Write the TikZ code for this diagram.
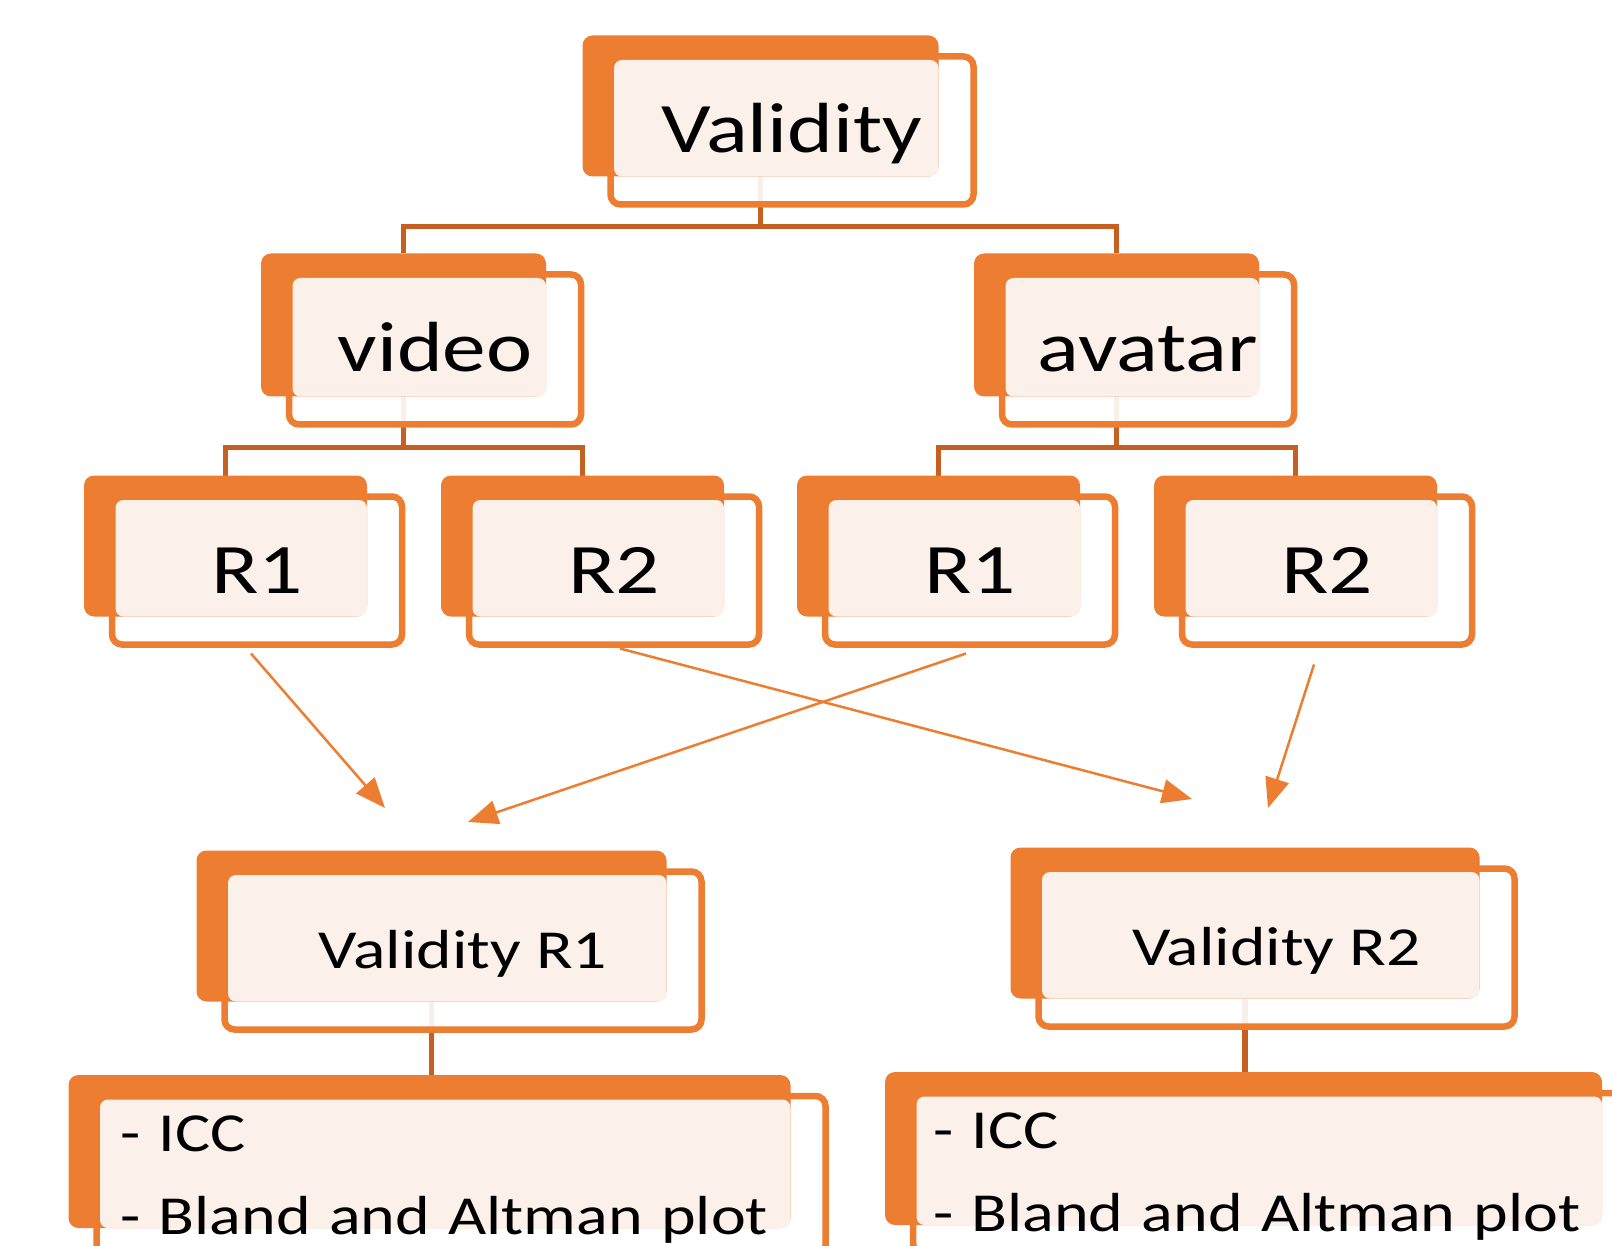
\documentclass[tikz,border=0pt]{standalone}
\usepackage{fontspec}
\newfontfamily\boxfont[FakeStretch=1.23]{Carlito}
\newfontfamily\listfont[FakeStretch=1.2]{Carlito}
\usetikzlibrary{arrows.meta}
\definecolor{accent}{RGB}{237,125,49}
\definecolor{linkcol}{RGB}{197,96,32}
\definecolor{peach}{RGB}{251,240,234}
\pgfdeclarelayer{background}
\pgfsetlayers{background,main}
\begin{document}
\begin{tikzpicture}[x=1pt,y=-1pt,
    card/.style={inner sep=0pt,outer sep=0pt,text height=45pt,text depth=0pt,font=\boxfont\fontsize{71}{85}\selectfont},
    smallcard/.style={card,text height=35pt,font=\boxfont\fontsize{55}{66}\selectfont},
    listcard/.style={inner sep=0pt,inner xsep=20pt,outer sep=0pt,align=left,text height=36pt,text depth=86pt,font=\listfont\fontsize{55}{83}\selectfont},
    link/.style={draw=linkcol,line width=5.5pt},
    arr/.style={draw=accent,line width=2.5pt,-{Triangle[length=30pt,width=24pt]}}]
    \useasboundingbox (0,0) rectangle (1612,1246);
    % labels
    \node[card,minimum width=363pt,minimum height=148pt] (top) at (792,130.5) {Validity};
    \node[card,minimum width=292pt,minimum height=150pt] (video) at (435,349.5) {video};
    \node[card,minimum width=292pt,minimum height=150pt] (avatar) at (1148,349.5) {avatar};
    \foreach \n/\x/\t in {r1v/257/R1,r2v/614/R2,r1a/970/R1,r2a/1327/R2}
        \node[card,minimum width=290pt,minimum height=148pt] (\n) at (\x,570.5) {\t};
    \node[smallcard,minimum width=477pt,minimum height=158pt] (vr1) at (463,950.5) {Validity R1};
    \node[smallcard,minimum width=476pt,minimum height=158pt] (vr2) at (1276.5,947.5) {Validity R2};
    \node[listcard,inner xsep=24pt,text width=681pt,minimum height=160pt] (list1) at (461,1176) {- ICC\\- Bland and Altman plot};
    \node[listcard,text width=684pt,minimum height=160pt] (list2) at (1275,1173) {- ICC\\- Bland and Altman plot};
    \begin{pgfonlayer}{background}
        \foreach \n in {top,video,avatar,r1v,r2v,r1a,r2a,vr1,vr2,list1,list2}{
            \coordinate (\n-t) at ([shift={(-31.5,-21)}]\n.north);
            \coordinate (\n-b) at ([shift={(-31.5,-28)}]\n.south);
        }
        % tree links
        \draw[link] (top-b) -- ++(0,50) -| (video-t);
        \draw[link] (top-b) -- ++(0,50) -| (avatar-t);
        \foreach \p/\c in {video/r1v,video/r2v,avatar/r1a,avatar/r2a}
            \draw[link] (\p-b) -- ++(0,51) -| (\c-t);
        \draw[link] (vr1-b) -- (vr1-b |- list1-t);
        \draw[link] (vr2-b) -- (vr2-b |- list2-t);
        % arrows
        \path (385,808) coordinate (t1) (1192,799) coordinate (t2)
              (468,822) coordinate (t3) (1268,808) coordinate (t4);
        \draw[arr] ([shift={(-6,9)}]r1v.south) -- (t1);
        \draw[arr] ([shift={(6,4)}]r2v.south) -- (t2);
        \draw[arr] ([shift={(-4,9)}]r1a.south) -- (t3);
        \draw[arr] ([shift={(-13,20)}]r2a.south) -- (t4);
        % cards
        \foreach \n in {top,video,avatar,r1v,r2v,r1a,r2a,vr1,vr2,list1,list2}{
            \draw[accent,line width=6.5pt,fill=white,fill opacity=.9,rounded corners=10pt] (\n.north west) rectangle (\n.south east);
            \fill[accent,rounded corners=10pt] ([shift={(-28,-21)}]\n.north west) rectangle ([shift={(-35,-28)}]\n.south east);
            \fill[peach,rounded corners=8pt] ([shift={(3.5,3.5)}]\n.north west) rectangle ([shift={(-35,-28)}]\n.south east);
        }
    \end{pgfonlayer}
\end{tikzpicture}
\end{document}
